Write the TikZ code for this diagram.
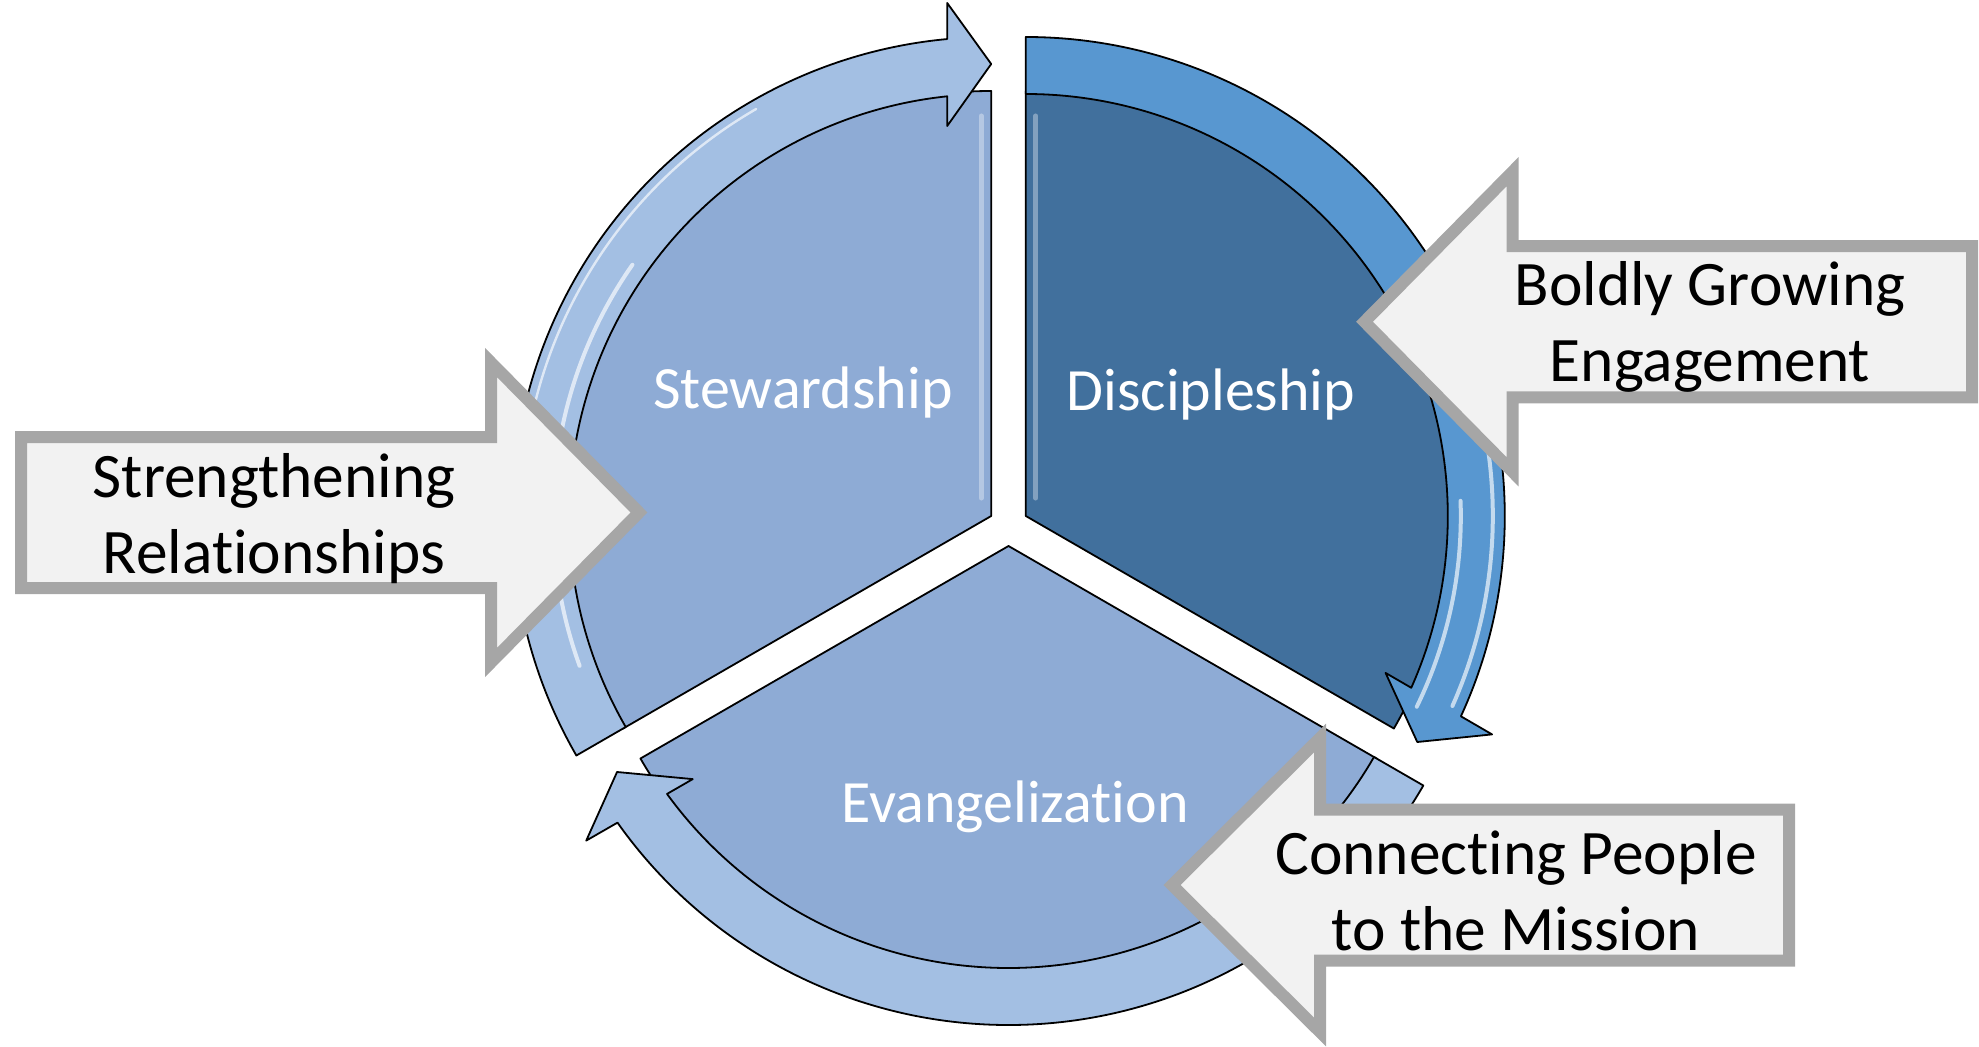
\documentclass[tikz,border=0pt]{standalone}
\usepackage{fontspec}
\setmainfont[Ligatures={NoCommon,NoContextual},RawFeature={-liga;-clig;-calt}]{Carlito}
\usetikzlibrary{calc}
\definecolor{secL}{RGB}{142,171,213}
\definecolor{secD}{RGB}{65,112,157}
\definecolor{bandL}{RGB}{163,191,227}
\definecolor{bandD}{RGB}{88,151,208}
\definecolor{cfill}{RGB}{242,242,242}
\definecolor{cline}{RGB}{166,166,166}
\begin{document}
\begin{tikzpicture}[x=0.5pt,y=0.5pt,
  sector/.style={draw=black, line width=0.9pt, line join=round},
  band/.style={draw=black, line width=0.9pt, line join=round},
  callout/.style={draw=cline, fill=cfill, line width=6pt, line join=miter},
  sectext/.style={text=white, font=\fontsize{30}{36}\selectfont, inner sep=0pt},
  calltext/.style={text=black, font=\fontsize{31.7}{38}\selectfont, align=center, inner sep=0pt},
  hl/.style={draw=white, line cap=round, opacity=0.65, line width=2pt},
  bev/.style={draw=white, line cap=round, opacity=0.35, line width=2.5pt}
]
\useasboundingbox (0,0) rectangle (1979,1046);
\coordinate (S) at (991.2,530);
\coordinate (D) at (1025.8,530);
\coordinate (E) at (1008.5,500);

% sectors
\path[sector, fill=secL] (S) -- ++(90:425) arc[start angle=90,end angle=210,radius=425] -- cycle;
\path[sector, fill=secD] (D) -- ++(-30:425) arc[start angle=-30,end angle=90,radius=425] -- cycle;
\path[sector, fill=secL] (E) -- ++(210:425) arc[start angle=210,end angle=330,radius=425] -- cycle;

% sector bevel highlights
\draw[bev] ($(S)+(-10,18)$) -- ($(S)+(-10,400)$);
\draw[bev] ($(D)+(10,18)$) -- ($(D)+(10,400)$);

% circular arrows
\path[band, fill=bandL] ($(S)+(210:479)$) arc[start angle=210,end angle=95.28,radius=479]
  -- ($(S)+(90:513)+(180:44)$) -- ($(S)+(90:452)$) -- ($(S)+(90:390)+(180:44)$)
  -- ($(S)+(95.98:422)$) arc[start angle=95.98,end angle=210,radius=422] -- cycle;
\path[band, fill=bandD] ($(D)+(90:479)$) arc[start angle=90,end angle=-24.72,radius=479]
  -- ($(D)+(-30:513)+(60:44)$) -- ($(D)+(-30:452)$) -- ($(D)+(-30:390)+(60:44)$)
  -- ($(D)+(-24.02:422)$) arc[start angle=-24.02,end angle=90,radius=422] -- cycle;
\path[band, fill=bandL] ($(E)+(330:479)$) arc[start angle=330,end angle=215.28,radius=479]
  -- ($(E)+(210:513)+(300:44)$) -- ($(E)+(210:452)$) -- ($(E)+(210:390)+(300:44)$)
  -- ($(E)+(215.98:422)$) arc[start angle=215.98,end angle=330,radius=422] -- cycle;

% band highlights
\draw[hl] ($(S)+(145:438)$) arc[start angle=145,end angle=200,radius=438];
\draw[hl, line width=1.2pt] ($(S)+(120:470)$) arc[start angle=120,end angle=175,radius=470];
\draw[hl] ($(D)+(2:435)$) arc[start angle=2,end angle=-26,radius=435];
\draw[hl] ($(D)+(8:467)$) arc[start angle=8,end angle=-24,radius=467];

% callout arrows
\path[callout] (21,609) -- (491,609) -- (491,683.5) -- (639,533.5) -- (491,383.5) -- (491,458) -- (21,458) -- cycle;
\path[callout] (1972,799.75) -- (1512.5,799.75) -- (1512.5,874.25) -- (1364.5,724.25) -- (1512.5,574.25) -- (1512.5,648.75) -- (1972,648.75) -- cycle;
\path[callout] (1789,236.5) -- (1320,236.5) -- (1320,308) -- (1172,161) -- (1320,14) -- (1320,85.5) -- (1789,85.5) -- cycle;

% texts
\node[sectext] (stew) at (803,653) {Stewardship};
\node[sectext] (disc) at (1211,651) {Discipleship};
\node[sectext] (evan) at (1015,239) {Evangelization};
\node[calltext] (rel) at (274,527) {Strengthening\\Relationships};
\node[calltext] (eng) at (1710,719) {Boldly Growing\\Engagement};
\node[calltext] (mis) at (1516,155) {Connecting People\\to the Mission};
\end{tikzpicture}
\end{document}
